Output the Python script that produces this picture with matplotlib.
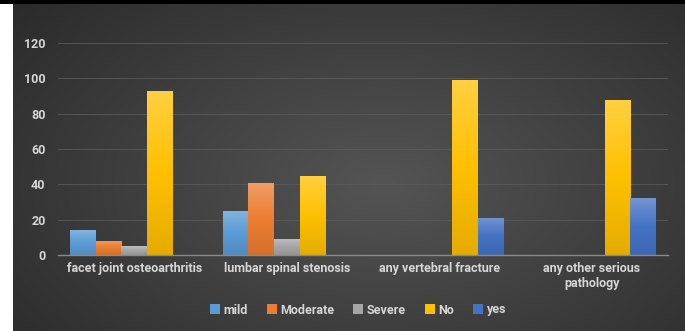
import numpy as np
import matplotlib
matplotlib.use("Agg")
import matplotlib.pyplot as plt
from matplotlib.colors import LinearSegmentedColormap, to_rgb

categories = ["facet joint osteoarthritis", "lumbar spinal stenosis",
              "any vertebral fracture", "any other serious\npathology"]
series_names = ["mild", "Moderate", "Severe", "No", "yes"]
mild = [14, 25, 0, 0]
moderate = [8, 41, 0, 0]
severe = [5, 9, 0, 0]
no = [93, 45, 99, 88]
yes = [0, 0, 21, 32]
series_values = [mild, moderate, severe, no, yes]
colors = ["#5B9BD5", "#ED7D31", "#A5A5A5", "#FFC000", "#4472C4"]
yticks = [0, 20, 40, 60, 80, 100, 120]

W, H = 685, 331
fig = plt.figure(figsize=(W / 100, H / 100), dpi=100)
fig.patch.set_facecolor("white")
plt.rcParams['font.family'] = ['Roboto', 'DejaVu Sans']
FS = 9.0
TXT = "#d6d6d6"

# dark background panel with radial gradient
bg = fig.add_axes([13 / W, 0, 1 - 13 / W, 1 - 4 / H])
bg.set_axis_off()
yy, xx = np.mgrid[0:1:300j, 0:1:600j]
r = np.sqrt(((xx - 0.55) / 0.75) ** 2 + ((yy - 0.55) / 0.9) ** 2)
val = np.clip(0.33 - 0.17 * r, 0.16, 0.33)
bg.imshow(np.dstack([val, val, val]), aspect="auto", extent=[0, 1, 0, 1])
# top black border
top = fig.add_axes([0, 1 - 4 / H, 1, 4 / H])
top.set_axis_off()
top.add_patch(plt.Rectangle((0, 0), 1, 1, color="black"))
top.set_xlim(0, 1); top.set_ylim(0, 1)

ax = fig.add_axes([58 / W, (H - 255) / H, 610 / W, 212 / H])
ax.patch.set_alpha(0)
n = len(series_names)
bw = 1 / (n + 0.96)
x = np.arange(len(categories))
for i, (name, vals, c) in enumerate(zip(series_names, series_values, colors)):
    offs = (i - (n - 1) / 2) * bw
    bars = ax.bar(x + offs, vals, width=bw, color=c, label=name, zorder=3)
    base = np.array(to_rgb(c))
    cmap = LinearSegmentedColormap.from_list(
        name, [np.clip(base * 0.9, 0, 1), base, np.clip(base + (1 - base) * 0.25, 0, 1)])
    grad = np.linspace(0, 1, 100).reshape(-1, 1)
    for b in bars:
        if b.get_height() <= 0:
            continue
        im = ax.imshow(grad, cmap=cmap, aspect="auto", origin="lower",
                       extent=[b.get_x(), b.get_x() + b.get_width(), 0, b.get_height()],
                       zorder=4)
        im.set_clip_path(b)

ax.set_xlim(-0.5, len(categories) - 0.5)
ax.set_ylim(0, 120)
ax.set_yticks(yticks)
ax.set_xticks(x)
ax.set_xticklabels(categories, fontsize=FS, color=TXT, fontweight="bold",
                   linespacing=1.25)
ax.tick_params(axis="y", labelsize=FS, labelcolor=TXT, length=0, pad=9)
ax.tick_params(axis="x", length=0, pad=5)
for t in ax.get_yticklabels():
    t.set_fontweight("bold")
ax.grid(axis="y", color="#5a5a5a", linewidth=0.6, zorder=0)
for s in ["top", "right", "left"]:
    ax.spines[s].set_visible(False)
ax.spines["bottom"].set_color("#8a8a8a")
ax.spines["bottom"].set_linewidth(1.0)
ax.spines["bottom"].set_zorder(5)

handles, labels = ax.get_legend_handles_labels()
leg = fig.legend(handles, labels, loc="center", ncol=5,
                 bbox_to_anchor=(358 / W, 1 - 310 / H), frameon=False,
                 prop={"size": FS, "weight": "bold"}, handlelength=0.8, handleheight=0.8,
                 handletextpad=0.3, columnspacing=1.5)
for t in leg.get_texts():
    t.set_color(TXT)

fig.savefig("out.png", dpi=100, facecolor=fig.get_facecolor())
